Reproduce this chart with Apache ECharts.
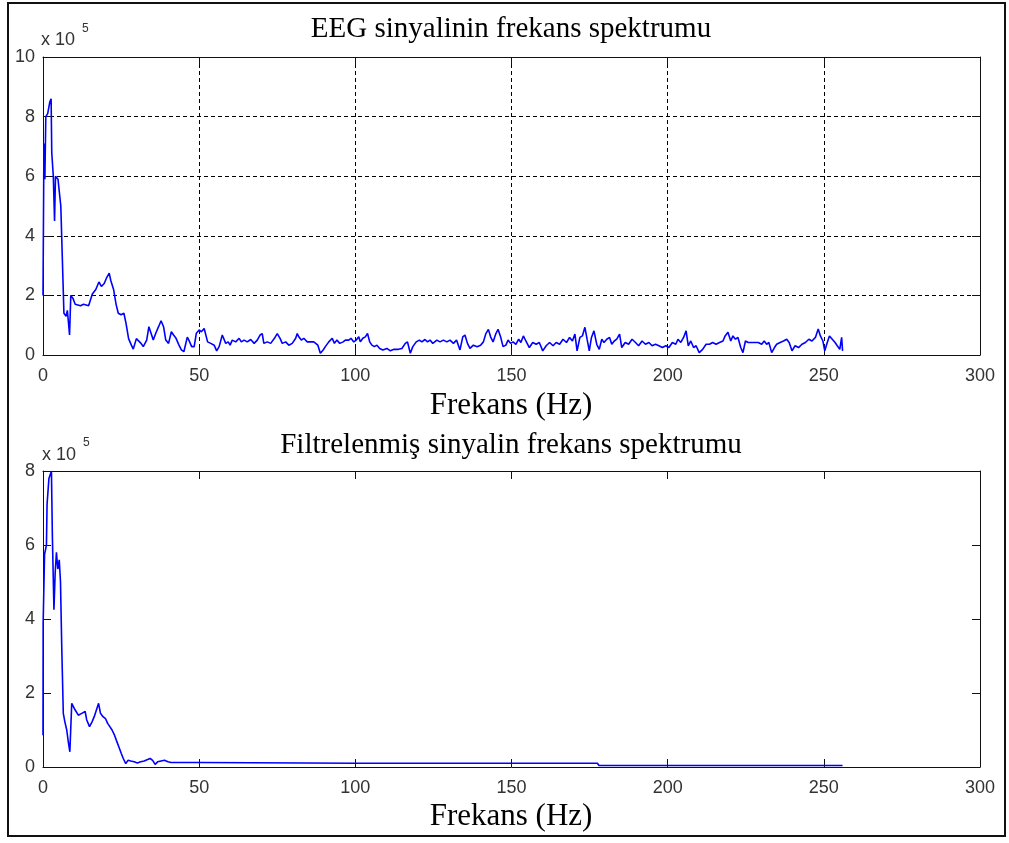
<!DOCTYPE html>
<html>
<head>
<meta charset="utf-8">
<script src="https://cdn.jsdelivr.net/npm/echarts@6/dist/echarts.min.js"></script>
<style>
html,body{margin:0;padding:0;background:#fff;}
#chart{width:1009px;height:843px;}
</style>
</head>
<body>
<div id="chart"></div>
<script>
// Values are in units of 10^5
var topTitle = 'EEG sinyalinin frekans spektrumu';
var bottomTitle = 'Filtrelenmiş sinyalin frekans spektrumu';
var xLabel = 'Frekans (Hz)';
var topYTicks = [0, 2, 4, 6, 8, 10];
var bottomYTicks = [0, 2, 4, 6, 8];
var xTicks = [0, 50, 100, 150, 200, 250, 300];

var topFreq = [0,0.3,0.6,0.9,1.5,2.2,2.6,2.8,3.3,3.7,4.0,4.8,5.2,5.7,6.2,6.7,7.4,7.8,8.5,8.9,9.6,10.3,12.0,13.0,14.6,15.8,16.9,17.9,18.7,19.6,20.4,21.2,21.7,22.6,23.4,24.1,25.0,25.9,26.6,27.4,28.3,28.9,29.9,30.4,31.3,32.1,33.2,33.9,34.6,35.3,36.1,37.0,37.8,38.6,39.3,40.2,41.1,41.8,42.6,43.5,44.3,45.1,46.2,46.7,47.6,48.4,49.1,50.0,
50.7,51.6,52.1,52.7,53.7,54.8,55.6,56.4,57.4,58.0,58.5,59.3,59.9,60.6,61.7,62.8,63.5,64.4,65.4,66.5,67.6,68.6,69.5,70.2,70.7,71.8,72.9,74.1,75.0,75.9,76.6,77.7,78.7,79.8,80.9,81.4,81.9,82.7,83.5,84.6,85.6,86.7,88.0,88.8,89.7,90.4,91.5,92.6,93.3,94.1,95.0,96.1,96.8,97.9,98.6,99.5,100.3,101.1,101.6,102.4,103.2,103.9,104.6,105.3,106.1,106.9,107.8,108.8,110.1,111.2,112.4,113.8,114.9,116.0,116.7,117.6,118.4,119.5,120.5,121.3,122.3,123.1,123.9,124.8,126.1,127.1,128.2,129.3,130.3,131.4,132.4,133.5,134.4,135.1,135.9,136.7,137.8,139.0,140.1,141.0,141.8,142.6,143.3,144.1,145.0,145.7,146.5,147.3,148.2,148.9,149.7,150.5,
151.4,152.3,153.0,153.8,154.6,155.7,156.8,157.9,158.9,160.0,161.1,162.2,163.3,164.3,165.4,166.5,167.6,168.6,169.5,170.3,171.0,171.9,172.7,173.5,174.2,174.9,175.6,176.4,177.3,178.1,178.9,179.6,180.5,181.4,182.1,182.9,183.7,184.6,185.3,186.4,187.5,188.6,189.7,190.7,191.8,192.9,194.0,195.0,196.1,197.2,198.3,199.4,200.4,201.5,202.6,203.3,204.2,205.1,205.9,206.6,207.4,208.3,209.1,210.1,211.2,212.3,213.4,214.4,215.5,216.6,217.7,218.4,219.3,220.2,220.9,221.7,222.5,223.4,224.1,224.9,225.8,226.8,227.9,229.0,230.1,230.9,231.7,232.4,233.3,234.2,234.9,236.0,237.1,238.1,238.9,239.8,240.8,241.9,243.0,244.1,245.2,246.2,247.3,248.2,248.9,249.7,250.3,251.1,251.8,252.7,253.6,254.3,255.1,255.7,256.0];

var topAmp = [2.0,7.1,5.9,8.0,8.1,8.5,8.6,6.8,6.0,4.5,6.0,5.9,5.5,5.0,3.2,1.4,1.3,1.5,0.67,2.0,1.9,1.7,1.65,1.7,1.65,2.05,2.2,2.45,2.3,2.4,2.6,2.75,2.5,2.2,1.7,1.4,1.35,1.4,1.05,0.55,0.33,0.2,0.55,0.6,0.4,0.28,0.5,0.95,0.73,0.5,0.73,0.95,1.15,0.95,0.5,0.39,0.78,0.67,0.56,0.34,0.17,0.11,0.6,0.5,0.28,0.28,0.73,0.84,
0.78,0.89,0.83,0.44,0.39,0.33,0.14,0.28,0.67,0.72,0.39,0.44,0.33,0.5,0.44,0.56,0.44,0.5,0.44,0.52,0.39,0.5,0.67,0.72,0.39,0.44,0.39,0.56,0.72,0.56,0.39,0.44,0.33,0.39,0.56,0.72,0.61,0.5,0.56,0.44,0.44,0.44,0.33,0.06,0.17,0.28,0.44,0.56,0.39,0.5,0.39,0.44,0.5,0.5,0.56,0.44,0.5,0.61,0.44,0.56,0.61,0.72,0.44,0.33,0.28,0.33,0.22,0.17,0.22,0.14,0.19,0.19,0.22,0.39,0.44,0.06,0.28,0.44,0.5,0.44,0.52,0.44,0.5,0.39,0.5,0.44,0.5,0.44,0.5,0.39,0.5,0.17,0.61,0.67,0.39,0.22,0.33,0.28,0.33,0.44,0.72,0.86,0.61,0.44,0.72,0.86,0.61,0.28,0.33,0.5,0.39,0.44,
0.36,0.53,0.42,0.64,0.47,0.25,0.42,0.36,0.42,0.14,0.31,0.42,0.31,0.42,0.36,0.53,0.42,0.59,0.47,0.70,0.14,0.59,0.64,0.93,0.53,0.14,0.59,0.81,0.36,0.19,0.53,0.42,0.53,0.59,0.36,0.47,0.53,0.70,0.25,0.42,0.36,0.53,0.42,0.31,0.47,0.36,0.42,0.31,0.36,0.31,0.25,0.31,0.25,0.42,0.36,0.53,0.42,0.59,0.81,0.31,0.47,0.25,0.31,0.08,0.19,0.36,0.36,0.42,0.36,0.42,0.47,0.64,0.76,0.47,0.64,0.53,0.59,0.25,0.08,0.47,0.42,0.42,0.42,0.42,0.36,0.47,0.36,0.42,0.08,0.25,0.36,0.42,0.47,0.53,0.42,0.14,0.31,0.25,0.36,0.42,0.53,0.47,0.59,0.87,0.64,0.47,0.14,0.42,0.64,0.53,0.42,0.31,0.19,0.59,0.14];

var botFreq = [0,0.05,0.5,1.1,1.3,1.9,2.7,3.0,3.5,3.9,4.3,4.75,5.2,5.6,6.0,6.5,7.0,7.6,8.1,8.6,9.2,9.7,10.3,11.3,12.4,13.5,14.0,14.9,15.7,16.4,17.1,17.8,18.4,19.2,20.0,20.7,21.4,22.1,22.9,23.5,24.3,25.1,25.7,26.5,27.2,28.1,29.2,30.2,31.3,32.4,33.5,34.3,35.1,35.9,36.7,37.8,38.9,40.0,41.0,50.0,50.2,100.0,150.0,177.5,178.0,256.0];
var botAmp = [0.86,3.9,5.75,6.0,7.1,7.8,8.0,6.25,4.25,5.25,5.8,5.35,5.6,5.0,3.25,1.45,1.22,1.0,0.68,0.41,1.72,1.72,1.54,1.4,1.45,1.5,1.27,1.09,1.22,1.36,1.54,1.72,1.45,1.36,1.31,1.18,1.09,1.0,0.86,0.72,0.54,0.36,0.23,0.09,0.18,0.16,0.14,0.11,0.14,0.16,0.2,0.23,0.18,0.07,0.14,0.16,0.18,0.14,0.12,0.12,0.1,0.1,0.1,0.1,0.04,0.04];

function pairs(xs, ys){ var out=[]; for(var i=0;i<xs.length;i++){ out.push([xs[i], ys[i]]); } return out; }

var chart = echarts.init(document.getElementById('chart'), null, {renderer:'canvas'});
var tickFont = {fontSize:18, color:'#333', fontFamily:'Liberation Sans, Arial, sans-serif'};
var axisLineStyle = {color:'#111', width:1};
var dashed = {color:'#000', width:1, type:[4,3]};

function xAx(grid, pos, labels, grid_){
  return {
    type:'value', gridIndex:grid, position:pos, min:0, max:300, interval:50,
    axisLine:{show:true, onZero:false, lineStyle:axisLineStyle},
    axisTick:{show:true, inside:true, length:8, lineStyle:{color:'#111'}},
    axisLabel: labels ? Object.assign({show:true, margin:12}, tickFont) : {show:false},
    splitLine: grid_ ? {show:true, lineStyle:dashed} : {show:false}
  };
}
function yAx(grid, pos, max, labels, grid_){
  return {
    type:'value', gridIndex:grid, position:pos, min:0, max:max, interval:2,
    axisLine:{show:true, onZero:false, lineStyle:axisLineStyle},
    axisTick:{show:true, inside:true, length:8, lineStyle:{color:'#111'}},
    axisLabel: labels ? Object.assign({show:true, margin:8}, tickFont) : {show:false},
    splitLine: grid_ ? {show:true, lineStyle:dashed} : {show:false}
  };
}

var serif = 'Liberation Serif, Times New Roman, serif';
var sans = 'Liberation Sans, Arial, sans-serif';
var option = {
  animation:false,
  backgroundColor:'#fff',
  grid:[
    {left:43, top:57, width:937, height:298},
    {left:43, top:471, width:937, height:296}
  ],
  xAxis:[ xAx(0,'bottom',true,true), xAx(0,'top',false,false), xAx(1,'bottom',true,false), xAx(1,'top',false,false) ],
  yAxis:[ yAx(0,'left',10,true,true), yAx(0,'right',10,false,false), yAx(1,'left',8,true,false), yAx(1,'right',8,false,false) ],
  series:[
    {type:'line', xAxisIndex:0, yAxisIndex:0, data:pairs(topFreq, topAmp), showSymbol:false, symbol:'none',
     lineStyle:{color:'#0000ff', width:1.6}, z:5},
    {type:'line', xAxisIndex:2, yAxisIndex:2, data:pairs(botFreq, botAmp), showSymbol:false, symbol:'none',
     lineStyle:{color:'#0000ff', width:1.6}, z:5}
  ],
  graphic:[
    {type:'rect', shape:{x:8, y:3, width:997, height:833}, style:{fill:'none', stroke:'#111', lineWidth:2}, silent:true},
    {type:'text', x:511, y:29, style:{text:topTitle, font:'29px '+serif, fill:'#000', textAlign:'center', textVerticalAlign:'middle'}},
    {type:'text', x:511, y:445, style:{text:bottomTitle, font:'29px '+serif, fill:'#000', textAlign:'center', textVerticalAlign:'middle'}},
    {type:'text', x:511, y:406, style:{text:xLabel, font:'31px '+serif, fill:'#000', textAlign:'center', textVerticalAlign:'middle'}},
    {type:'text', x:511, y:817, style:{text:xLabel, font:'31px '+serif, fill:'#000', textAlign:'center', textVerticalAlign:'middle'}},
    {type:'text', x:41, y:40, style:{text:'x 10', font:'18px '+sans, fill:'#333', textAlign:'left', textVerticalAlign:'middle'}},
    {type:'text', x:82, y:29, style:{text:'5', font:'12px '+sans, fill:'#333', textAlign:'left', textVerticalAlign:'middle'}},
    {type:'text', x:42, y:455, style:{text:'x 10', font:'18px '+sans, fill:'#333', textAlign:'left', textVerticalAlign:'middle'}},
    {type:'text', x:83, y:443, style:{text:'5', font:'12px '+sans, fill:'#333', textAlign:'left', textVerticalAlign:'middle'}}
  ]
};
chart.setOption(option);
</script>
</body>
</html>
